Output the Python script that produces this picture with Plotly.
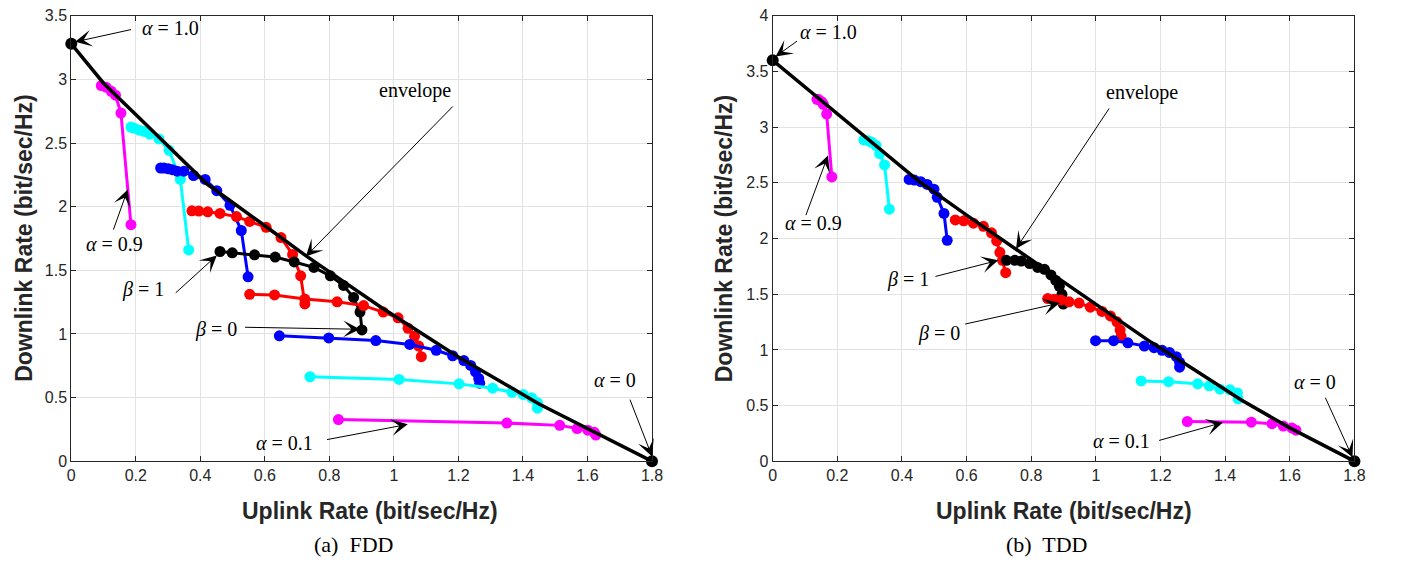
import plotly.graph_objects as go

# ---------------- FDD (left) ----------------
fdd_env_x = [0, 0.1, 0.25, 0.42, 0.6, 0.73, 0.96, 1.2, 1.45, 1.62, 1.8]
fdd_env_y = [3.28, 2.97, 2.60, 2.18, 1.85, 1.61, 1.21, 0.82, 0.45, 0.23, 0.0]
fdd_end_x = [0, 1.8]
fdd_end_y = [3.28, 0.0]

fdd_a09_x = [0.093, 0.108, 0.124, 0.137, 0.154, 0.185]
fdd_a09_y = [2.952, 2.939, 2.906, 2.876, 2.736, 1.859]
fdd_a08_x = [0.185, 0.195, 0.211, 0.226, 0.243, 0.272, 0.303, 0.338, 0.364]
fdd_a08_y = [2.626, 2.616, 2.601, 2.591, 2.571, 2.532, 2.443, 2.214, 1.660]
fdd_a07_x = [0.277, 0.287, 0.301, 0.313, 0.328, 0.349, 0.379, 0.415, 0.451, 0.492, 0.527, 0.548]
fdd_a07_y = [2.304, 2.304, 2.298, 2.291, 2.279, 2.279, 2.245, 2.214, 2.126, 2.011, 1.813, 1.449]
fdd_a06_x = [0.374, 0.395, 0.423, 0.461, 0.512, 0.553, 0.604, 0.650, 0.686, 0.711, 0.724]
fdd_a06_y = [1.968, 1.966, 1.960, 1.947, 1.922, 1.884, 1.838, 1.757, 1.625, 1.457, 1.236]
fdd_a05_x = [0.461, 0.499, 0.568, 0.632, 0.691, 0.752, 0.803, 0.844, 0.875, 0.895, 0.901]
fdd_a05_y = [1.648, 1.638, 1.622, 1.604, 1.566, 1.523, 1.457, 1.381, 1.287, 1.172, 1.032]
fdd_a04_x = [0.553, 0.630, 0.724, 0.824, 0.906, 0.967, 1.013, 1.044, 1.064, 1.077, 1.085]
fdd_a04_y = [1.312, 1.307, 1.274, 1.253, 1.223, 1.172, 1.127, 1.045, 0.982, 0.905, 0.822]
fdd_a03_x = [0.645, 0.798, 0.944, 1.049, 1.131, 1.182, 1.217, 1.238, 1.253, 1.263, 1.266]
fdd_a03_y = [0.986, 0.969, 0.948, 0.918, 0.872, 0.829, 0.791, 0.753, 0.702, 0.651, 0.613]
fdd_a02_x = [0.740, 1.016, 1.202, 1.306, 1.366, 1.401, 1.427, 1.445, 1.445]
fdd_a02_y = [0.664, 0.643, 0.608, 0.574, 0.542, 0.524, 0.498, 0.460, 0.417]
fdd_a01_x = [0.828, 1.350, 1.514, 1.568, 1.601, 1.621, 1.626]
fdd_a01_y = [0.328, 0.300, 0.282, 0.257, 0.244, 0.227, 0.206]

# ---------------- TDD (right) ----------------
tdd_env_x = [0, 0.15, 0.3, 0.45, 0.6, 0.75, 0.9, 1.05, 1.17, 1.3, 1.45, 1.6, 1.8]
tdd_env_y = [3.6, 3.24, 2.88, 2.52, 2.21, 1.91, 1.61, 1.31, 1.07, 0.83, 0.55, 0.30, 0.0]
tdd_end_x = [0, 1.8]
tdd_end_y = [3.6, 0.0]

tdd_a09_x = [0.137, 0.142, 0.152, 0.157, 0.167, 0.183]
tdd_a09_y = [3.250, 3.248, 3.227, 3.204, 3.117, 2.553]
tdd_a08_x = [0.282, 0.295, 0.307, 0.320, 0.331, 0.346, 0.361]
tdd_a08_y = [2.885, 2.878, 2.864, 2.835, 2.763, 2.661, 2.263]
tdd_a07_x = [0.422, 0.438, 0.458, 0.478, 0.499, 0.509, 0.530, 0.540]
tdd_a07_y = [2.530, 2.525, 2.510, 2.486, 2.443, 2.370, 2.225, 1.984]
tdd_a06_x = [0.565, 0.591, 0.621, 0.652, 0.677, 0.693, 0.703, 0.711, 0.721]
tdd_a06_y = [2.167, 2.159, 2.138, 2.109, 2.051, 1.978, 1.876, 1.804, 1.693]
tdd_a05_x = [0.723, 0.749, 0.769, 0.795, 0.820, 0.841, 0.861, 0.876, 0.887, 0.895, 0.899]
tdd_a05_y = [1.804, 1.804, 1.798, 1.775, 1.740, 1.723, 1.673, 1.624, 1.571, 1.499, 1.412]
tdd_a04_x = [0.851, 0.871, 0.892, 0.917, 0.948, 0.983, 1.019, 1.045, 1.065, 1.075, 1.078]
tdd_a04_y = [1.461, 1.455, 1.449, 1.432, 1.420, 1.383, 1.345, 1.305, 1.252, 1.179, 1.122]
tdd_a03_x = [0.999, 1.055, 1.099, 1.150, 1.180, 1.205, 1.228, 1.249, 1.259, 1.259]
tdd_a03_y = [1.083, 1.083, 1.063, 1.034, 1.020, 0.996, 0.976, 0.939, 0.889, 0.845]
tdd_a02_x = [1.140, 1.225, 1.315, 1.351, 1.384, 1.415, 1.438, 1.440]
tdd_a02_y = [0.721, 0.715, 0.695, 0.677, 0.647, 0.642, 0.613, 0.560]
tdd_a01_x = [1.283, 1.481, 1.545, 1.580, 1.606, 1.619]
tdd_a01_y = [0.357, 0.351, 0.337, 0.316, 0.299, 0.279]

x_ticks = [0, 0.2, 0.4, 0.6, 0.8, 1, 1.2, 1.4, 1.6, 1.8]
fdd_y_ticks = [0, 0.5, 1, 1.5, 2, 2.5, 3, 3.5]
tdd_y_ticks = [0, 0.5, 1, 1.5, 2, 2.5, 3, 3.5, 4]

MAG, CYA, BLU, RED, BLK = "#ff00ff", "#00ffff", "#0000ff", "#ff0000", "#000000"

fdd_series = [
    (fdd_a09_x, fdd_a09_y, MAG), (fdd_a08_x, fdd_a08_y, CYA), (fdd_a07_x, fdd_a07_y, BLU),
    (fdd_a06_x, fdd_a06_y, RED), (fdd_a05_x, fdd_a05_y, BLK), (fdd_a04_x, fdd_a04_y, RED),
    (fdd_a03_x, fdd_a03_y, BLU), (fdd_a02_x, fdd_a02_y, CYA), (fdd_a01_x, fdd_a01_y, MAG),
]
tdd_series = [
    (tdd_a09_x, tdd_a09_y, MAG), (tdd_a08_x, tdd_a08_y, CYA), (tdd_a07_x, tdd_a07_y, BLU),
    (tdd_a06_x, tdd_a06_y, RED), (tdd_a05_x, tdd_a05_y, BLK), (tdd_a04_x, tdd_a04_y, RED),
    (tdd_a03_x, tdd_a03_y, BLU), (tdd_a02_x, tdd_a02_y, CYA), (tdd_a01_x, tdd_a01_y, MAG),
]

fig = go.Figure()

def add_panel(series, env_x, env_y, end_x, end_y, xa, ya):
    for sx, sy, col in series:
        fig.add_trace(go.Scatter(x=sx, y=sy, mode="lines+markers", xaxis=xa, yaxis=ya,
                                 line=dict(color=col, width=3),
                                 marker=dict(color=col, size=11), showlegend=False,
                                 cliponaxis=False, hoverinfo="skip"))
    fig.add_trace(go.Scatter(x=env_x, y=env_y, mode="lines", xaxis=xa, yaxis=ya,
                             line=dict(color=BLK, width=3.5), showlegend=False,
                             cliponaxis=False, hoverinfo="skip"))
    fig.add_trace(go.Scatter(x=end_x, y=end_y, mode="markers", xaxis=xa, yaxis=ya,
                             marker=dict(color=BLK, size=12), showlegend=False,
                             cliponaxis=False, hoverinfo="skip"))

add_panel(fdd_series, fdd_env_x, fdd_env_y, fdd_end_x, fdd_end_y, "x", "y")
add_panel(tdd_series, tdd_env_x, tdd_env_y, tdd_end_x, tdd_end_y, "x2", "y2")

W, H = 1404, 578
ydom = [1 - 467 / H, 1 - 8 / H]
axis_common = dict(showgrid=True, gridcolor="#e2e2e2", gridwidth=1, zeroline=False,
                   showline=True, linecolor="#262626", linewidth=1, mirror="ticks",
                   ticks="inside", ticklen=5, tickcolor="#262626", ticklabeloverflow="allow",
                   tickfont=dict(family="Liberation Sans, Arial", size=16, color="#262626"))

fig.update_layout(
    width=W, height=H, margin=dict(l=0, r=0, t=0, b=0),
    paper_bgcolor="white", plot_bgcolor="white",
    xaxis=dict(domain=[68 / W, 655 / W], range=[0, 1.8], tickvals=x_ticks, anchor="y", **axis_common),
    yaxis=dict(domain=ydom, range=[0, 3.5], tickvals=fdd_y_ticks, anchor="x", **axis_common),
    xaxis2=dict(domain=[777 / W, 1365 / W], range=[0, 1.8], tickvals=x_ticks, anchor="y2", **axis_common),
    yaxis2=dict(domain=ydom, range=[0, 4], tickvals=tdd_y_ticks, anchor="x2", **axis_common),
)

serif = dict(family="Liberation Serif, Times New Roman", size=20, color="black")
title_font = dict(family="Liberation Sans, Arial", size=23, color="#262626")

ann = []
for cx, txt in [(370, "Uplink Rate (bit/sec/Hz)"), (1071, "Uplink Rate (bit/sec/Hz)")]:
    ann.append(dict(xref="paper", yref="paper", x=cx / W, y=1 - 518 / H, text="<b>" + txt + "</b>",
                    showarrow=False, font=title_font, xanchor="center", yanchor="middle"))
for cx in [20, 728]:
    ann.append(dict(xref="paper", yref="paper", x=cx / W, y=1 - 237 / H,
                    text="<b>Downlink Rate (bit/sec/Hz)</b>", textangle=-90,
                    showarrow=False, font=title_font, xanchor="center", yanchor="middle"))
for cx, txt in [(353, "(a)  FDD"), (1054, "(b)  TDD")]:
    ann.append(dict(xref="paper", yref="paper", x=cx / W, y=1 - 553 / H, text=txt,
                    showarrow=False, font=dict(family="Liberation Serif, Times New Roman", size=22, color="black"),
                    xanchor="center", yanchor="middle"))

fdd_labels = [(0.307, 3.40, "<i>α</i> = 1.0"), (0.135, 1.71, "<i>α</i> = 0.9"),
              (1.066, 2.914, "envelope"), (0.221, 1.35, "<i>β</i> = 1"),
              (0.448, 1.037, "<i>β</i> = 0"), (0.662, 0.145, "<i>α</i> = 0.1"),
              (1.684, 0.641, "<i>α</i> = 0")]
tdd_labels = [(0.174, 3.852, "<i>α</i> = 1.0"), (0.125, 2.135, "<i>α</i> = 0.9"),
              (1.142, 3.312, "envelope"), (0.419, 1.63, "<i>β</i> = 1"),
              (0.514, 1.15, "<i>β</i> = 0"), (1.080, 0.183, "<i>α</i> = 0.1"),
              (1.677, 0.715, "<i>α</i> = 0")]
fdd_arrows = [(0.190, 3.394, 0.012, 3.295), (0.129, 1.808, 0.175, 2.136),
              (1.187, 2.799, 0.727, 1.609), (0.319, 1.312, 0.451, 1.617),
              (0.534, 1.053, 0.895, 1.037), (0.788, 0.168, 1.043, 0.290),
              (1.730, 0.496, 1.80, 0.038)]
tdd_arrows = [(0.080, 3.782, 0.009, 3.634), (0.101, 2.196, 0.171, 2.745),
              (1.044, 3.181, 0.753, 1.908), (0.499, 1.656, 0.698, 1.804),
              (0.591, 1.229, 0.888, 1.420), (1.191, 0.183, 1.393, 0.349),
              (1.708, 0.584, 1.794, 0.035)]

for labels, arrows, xr, yr in [(fdd_labels, fdd_arrows, "x", "y"), (tdd_labels, tdd_arrows, "x2", "y2")]:
    for lx, ly, t in labels:
        ann.append(dict(xref=xr, yref=yr, x=lx, y=ly, text=t, showarrow=False, font=serif,
                        xanchor="center", yanchor="middle"))
    for tx, ty, hx, hy in arrows:
        ann.append(dict(xref=xr, yref=yr, axref=xr, ayref=yr, x=hx, y=hy, ax=tx, ay=ty, text="",
                        showarrow=True, arrowhead=3, arrowsize=2.8, arrowwidth=1, arrowcolor="black",
                        standoff=0, startstandoff=0))

fig.update_layout(annotations=ann)
fig.write_html("out.html")
